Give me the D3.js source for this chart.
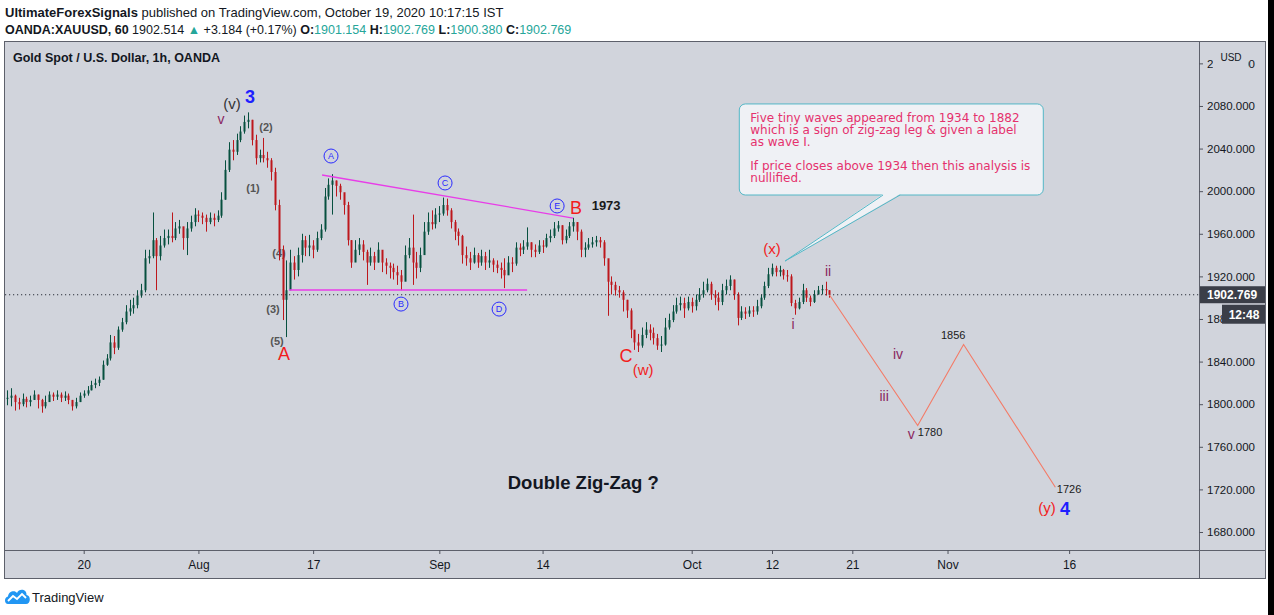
<!DOCTYPE html>
<html><head><meta charset="utf-8">
<script src="https://cdn.jsdelivr.net/npm/d3@7"></script>
<style>
body{margin:0;background:#fff;}
svg{display:block;font-family:"Liberation Sans",Arial,sans-serif;}
</style>
</head><body><svg id="c" width="1274" height="615"></svg>
<script>
// ---------- DATA ----------
// 8-hour candles, indexed in trading days (0 = Jul 20, 2020); open = previous close
const startDay = -20/3;
const stepDay = 1/3;
const firstOpen = 1806;
const closes = [1806,1808,1802,1800,1805,1802,1804,1809,1804,1798,1802,1809,1807,1809,1806,1808,1804,1798,1802,1808,
1810,1813,1818,1820,1823,1837,1843,1858,1853,1870,1877,1887,1890,1893,1902,1907,1937,1939,1954,1939,
1949,1956,1958,1956,1965,1967,1956,1965,1971,1978,1977,1975,1971,1975,1973,1977,1992,2020,2039,2037,
2048,2056,2065,2067,2048,2031,2034,2031,2029,2018,1987,1945,1898,1907,1933,1926,1940,1954,1947,1949,
1945,1956,1964,1995,2006,2010,2005,1999,1987,1954,1933,1945,1950,1943,1933,1939,1933,1945,1933,1930,
1928,1924,1921,1915,1940,1947,1933,1928,1940,1962,1971,1969,1978,1979,1987,1982,1971,1962,1958,1940,
1937,1933,1940,1933,1939,1933,1935,1931,1928,1926,1921,1933,1932,1947,1945,1948,1952,1945,1943,1949,
1948,1956,1958,1965,1968,1954,1958,1967,1971,1962,1945,1947,1950,1952,1954,1952,1937,1915,1912,1907,
1905,1898,1888,1870,1858,1855,1865,1870,1867,1862,1855,1856,1872,1879,1887,1893,1895,1890,1896,1892,
1898,1903,1907,1913,1903,1900,1896,1907,1911,1917,1903,1881,1887,1885,1888,1887,1892,1900,1911,1922,
1928,1924,1926,1921,1920,1895,1890,1896,1907,1900,1896,1903,1907,1908,1907,1902.77];
const highs = [1813,1815,1809,1806,1810,1807,1808,1813,1809,1805,1808,1812,1811,1813,1811,1812,1810,1804,1806,1811,
1813,1817,1822,1824,1826,1841,1847,1865,1864,1873,1881,1893,1898,1900,1907,1913,1945,1945,1980,1956,
1958,1964,1964,1980,1971,1973,1965,1971,1977,1984,1982,1980,1978,1980,1979,1982,1999,2029,2046,2048,
2054,2061,2071,2074,2067,2053,2039,2050,2037,2031,2022,1992,1949,1935,1945,1939,1947,1960,1958,1959,
1954,1962,1969,2003,2012,2016,2010,2007,1996,1990,1954,1954,1956,1954,1945,1947,1943,1952,1940,1937,
1933,1932,1930,1926,1949,1956,1978,1943,1947,1971,1980,1982,1984,1986,1994,1993,1984,1973,1965,1959,
1948,1943,1947,1942,1945,1943,1945,1937,1935,1933,1937,1939,1938,1952,1951,1954,1966,1952,1950,1954,
1954,1960,1964,1971,1972,1968,1964,1971,1975,1971,1964,1952,1956,1957,1958,1957,1954,1935,1920,1915,
1911,1907,1898,1890,1868,1866,1872,1877,1875,1872,1866,1864,1881,1885,1893,1900,1901,1900,1901,1900,
1903,1909,1915,1918,1915,1907,1905,1913,1917,1921,1917,1905,1892,1891,1892,1892,1898,1903,1915,1928,
1932,1930,1930,1927,1926,1922,1898,1900,1913,1909,1902,1907,1911,1912,1915,1907];
const lows = [1799,1798,1794,1795,1798,1797,1798,1804,1796,1792,1796,1804,1803,1804,1802,1803,1800,1794,1796,1802,
1806,1808,1813,1815,1817,1823,1836,1841,1847,1851,1868,1875,1883,1885,1890,1900,1905,1932,1937,1907,
1935,1947,1950,1952,1954,1960,1945,1940,1962,1967,1971,1969,1962,1969,1967,1971,1975,1992,2018,2029,
2034,2046,2054,2059,2043,2025,2027,2027,2022,2010,1982,1935,1879,1863,1907,1917,1920,1933,1939,1939,
1937,1943,1954,1962,1992,1978,1995,1992,1978,1949,1928,1935,1940,1935,1912,1930,1926,1933,1924,1922,
1918,1917,1912,1907,1924,1937,1912,1918,1924,1945,1959,1964,1965,1971,1977,1977,1965,1954,1949,1932,
1930,1926,1932,1928,1930,1926,1928,1924,1923,1918,1909,1924,1924,1930,1939,1941,1945,1938,1938,1941,
1942,1947,1952,1956,1962,1950,1951,1956,1962,1954,1938,1938,1945,1947,1948,1947,1930,1883,1903,1902,
1900,1887,1881,1862,1851,1849,1853,1862,1860,1856,1851,1849,1855,1870,1877,1885,1888,1881,1888,1886,
1888,1896,1900,1905,1898,1893,1888,1893,1903,1907,1898,1874,1879,1880,1882,1882,1884,1890,1898,1909,
1920,1920,1920,1917,1915,1892,1884,1889,1894,1896,1892,1895,1903,1903,1902,1900];

// projected path (trading-day index, price)
const projDays = [65, 72.7, 76.7, 84.7];
const projPrices = [1902.77, 1780, 1856, 1722];

// triangle boundaries
const upperLineDays = [20.78, 42.66];
const upperLinePrices = [2015.2, 1974.8];
const lowerLineDays = [17.9, 38.65];
const lowerLinePrices = [1907.2, 1907.2];

const xTickDays = [0, 10, 20, 31, 40, 53, 60, 67, 75.3, 85.9];
const xTickLabels = ["20", "Aug", "17", "Sep", "14", "Oct", "12", "21", "Nov", "16"];
const yTicks = [1680, 1720, 1760, 1800, 1840, 1880, 1920, 1960, 2000, 2040, 2080, 2120];
const lastPrice = 1902.769;
const countdown = "12:48";

const calloutLines = [
  "Five tiny waves appeared from 1934 to 1882",
  "which is a sign of zig-zag leg & given a label",
  "as wave I.",
  "",
  "If price closes above 1934 then this analysis is",
  "nullified."
];

// ---------- LAYOUT ----------
const svg = d3.select("#c");
const L = 5, R = 1199, T = 41, B = 550;
const x = d3.scaleLinear().domain([0, 60]).range([83.7, 772]);
const y = d3.scaleLinear().domain([1663.1, 2141]).range([B, T]);

const BG = "#d1d4dc", FRAME = "#5d606b";
const UP = "#07503f", DN = "#bd171c";
const RED = "#f21d1d", PURPLE = "#8a2660", GREY = "#555", BLUE = "#1f1fff", TEAL = "#26a69a";

// header
const h1 = svg.append("text").attr("x", 5).attr("y", 17).attr("font-size", 13).attr("fill", "#131722");
h1.append("tspan").attr("font-weight", "bold").text("UltimateForexSignals");
h1.append("tspan").text(" published on TradingView.com, October 19, 2020 10:17:15 IST");
const h2 = svg.append("text").attr("x", 5).attr("y", 34).attr("font-size", 12.5).attr("fill", "#131722");
h2.append("tspan").attr("font-weight", "bold").text("OANDA:XAUUSD, 60");
h2.append("tspan").text(" 1902.514 ");
h2.append("tspan").attr("fill", TEAL).text("▲");
h2.append("tspan").text(" +3.184 (+0.17%) ");
[["O:", "1901.154"], ["H:", "1902.769"], ["L:", "1900.380"], ["C:", "1902.769"]].forEach((p, i) => {
  h2.append("tspan").attr("font-weight", "bold").text((i ? " " : "") + p[0]);
  h2.append("tspan").attr("fill", TEAL).text(p[1]);
});

// panel backgrounds
svg.append("rect").attr("x", 4.5).attr("y", 41.5).attr("width", 1261).attr("height", 537)
  .attr("fill", BG).attr("stroke", FRAME);
svg.append("line").attr("x1", R + 0.5).attr("x2", R + 0.5).attr("y1", 41).attr("y2", 579).attr("stroke", FRAME);
svg.append("line").attr("x1", 4).attr("x2", 1266).attr("y1", B + 0.5).attr("y2", B + 0.5).attr("stroke", FRAME);
svg.append("rect").attr("x", 1268).attr("y", 0).attr("width", 6).attr("height", 615).attr("fill", "#000");

svg.append("text").attr("x", 13).attr("y", 62).attr("font-size", 12.5).attr("font-weight", "bold")
  .attr("fill", "#131722").text("Gold Spot / U.S. Dollar, 1h, OANDA");

svg.append("defs").append("clipPath").attr("id", "plot").append("rect")
  .attr("x", L).attr("y", T + 1).attr("width", R - L).attr("height", B - T - 1);
const plot = svg.append("g").attr("clip-path", "url(#plot)");

// partly hidden wave label drawn under candles
plot.append("text").attr("x", x(17.03)).attr("y", y(1941.9)).attr("dy", "0.35em")
  .attr("text-anchor", "middle").attr("font-size", 11).attr("font-weight", "bold").attr("fill", GREY).text("(4)");

// candles
const candles = closes.map((c, i) => ({
  d: startDay + i * stepDay, o: i ? closes[i - 1] : firstOpen, c, h: highs[i], l: lows[i]
}));
const cg = plot.append("g");
cg.selectAll("line").data(candles).join("line")
  .attr("x1", d => Math.round(x(d.d)) + 0.5).attr("x2", d => Math.round(x(d.d)) + 0.5)
  .attr("y1", d => y(d.h)).attr("y2", d => y(d.l))
  .attr("stroke", d => d.c >= d.o ? UP : DN).attr("stroke-width", 1);
cg.selectAll("rect").data(candles).join("rect")
  .attr("x", d => Math.round(x(d.d)) - 0.5).attr("width", 2)
  .attr("y", d => y(Math.max(d.o, d.c)))
  .attr("height", d => Math.max(1, Math.abs(y(d.o) - y(d.c))))
  .attr("fill", d => d.c >= d.o ? UP : DN);

// last price dotted line
plot.append("line").attr("x1", L).attr("x2", R).attr("y1", y(lastPrice)).attr("y2", y(lastPrice))
  .attr("stroke", "#2a2e39").attr("stroke-dasharray", "1.2,2.8").attr("stroke-width", 1.2);

// triangle lines
const ln = d3.line().x(d => x(d[0])).y(d => y(d[1]));
plot.append("path").attr("d", ln(upperLineDays.map((d, i) => [d, upperLinePrices[i]])))
  .attr("stroke", "#e83de8").attr("stroke-width", 1.3).attr("fill", "none");
plot.append("path").attr("d", ln(lowerLineDays.map((d, i) => [d, lowerLinePrices[i]])))
  .attr("stroke", "#e83de8").attr("stroke-width", 1.3).attr("fill", "none");

// projection
plot.append("path").attr("d", ln(projDays.map((d, i) => [d, projPrices[i]])))
  .attr("stroke", "#f47a66").attr("stroke-width", 1.1).attr("fill", "none");

// wave labels: [text, day, price, colour, size, weight]
const labels = [
  ["(v)", 12.93, 2081.8, "#333", 15, "normal"],
  ["3", 14.5, 2088.4, BLUE, 18, "bold"],
  ["v", 11.97, 2067.8, PURPLE, 14, "normal"],
  ["(2)", 15.89, 2060.3, GREY, 11, "bold"],
  ["(1)", 14.76, 2003.0, GREY, 11, "bold"],
  ["(3)", 16.5, 1889.3, GREY, 11, "bold"],
  ["(5)", 16.85, 1859.5, GREY, 11, "bold"],
  ["A", 17.47, 1847.0, RED, 18, "normal"],
  ["B", 42.92, 1984.2, RED, 18, "normal"],
  ["1973", 45.54, 1987.0, "#1a1a1a", 13, "bold"],
  ["C", 47.28, 1845.2, RED, 18, "normal"],
  ["(w)", 48.76, 1832.1, RED, 15, "normal"],
  ["(x)", 60.01, 1945.7, RED, 15, "normal"],
  ["i", 61.84, 1875.3, PURPLE, 14, "normal"],
  ["ii", 64.89, 1925.0, PURPLE, 14, "normal"],
  ["iv", 70.99, 1847.1, PURPLE, 14, "normal"],
  ["iii", 69.77, 1807.7, PURPLE, 14, "normal"],
  ["v", 72.13, 1772.0, PURPLE, 14, "normal"],
  ["1780", 73.78, 1773.9, "#1a1a1a", 11, "normal"],
  ["1856", 75.79, 1864.9, "#1a1a1a", 11, "normal"],
  ["1726", 85.9, 1720.3, "#1a1a1a", 11, "normal"],
  ["(y)", 83.98, 1702.5, RED, 15, "normal"],
  ["4", 85.55, 1701.5, BLUE, 18, "bold"],
  ["Double Zig-Zag ?", 43.55, 1726.0, "#131722", 18.5, "bold"]
];
plot.selectAll("text.wl").data(labels).join("text").attr("class", "wl")
  .attr("x", d => x(d[1])).attr("y", d => y(d[2])).attr("dy", "0.35em")
  .attr("text-anchor", "middle").attr("font-size", d => d[4]).attr("font-weight", d => d[5])
  .attr("fill", d => d[3]).text(d => d[0]);

// circled sub-wave letters
const circled = [["A", 21.56, 2033.0], ["B", 27.66, 1894.0], ["C", 31.5, 2007.7], ["D", 36.21, 1889.3], ["E", 41.27, 1986.1]];
const cgp = plot.selectAll("g.circ").data(circled).join("g").attr("class", "circ")
  .attr("transform", d => `translate(${x(d[1])},${y(d[2])})`);
cgp.append("circle").attr("r", 7).attr("fill", "none").attr("stroke", "#2b2bff").attr("stroke-width", 1);
cgp.append("text").attr("text-anchor", "middle").attr("dy", "0.36em").attr("font-size", 9)
  .attr("fill", "#2b2bff").text(d => d[0]);

// callout
const boxL = x(57.15), boxR = x(83.65), boxT = y(2081.9), boxB = y(1996.4);
const tipX = x(61.14), tipY = y(1934.4), b1 = x(69.68), b2 = x(71.17);
const cgb = svg.append("g");
cgb.append("rect").attr("x", boxL).attr("y", boxT).attr("width", boxR - boxL).attr("height", boxB - boxT)
  .attr("rx", 6).attr("fill", "#eff1f5").attr("stroke", "#53b7c6").attr("stroke-width", 1);
cgb.append("path").attr("d", `M${b1},${boxB - 1}L${tipX},${tipY}L${b2},${boxB - 1}Z`).attr("fill", "#eff1f5");
cgb.append("path").attr("d", `M${b1},${boxB}L${tipX},${tipY}L${b2},${boxB}`)
  .attr("fill", "none").attr("stroke", "#53b7c6").attr("stroke-width", 1);
cgb.selectAll("text").data(calloutLines).join("text")
  .attr("x", boxL + 11).attr("y", (d, i) => boxT + 18 + i * 12)
  .attr("font-family", "DejaVu Sans, Verdana, sans-serif").attr("font-size", 12)
  .attr("fill", "#e5316d").text(d => d);

// price axis
const ya = svg.append("g").attr("transform", `translate(${R},0)`)
  .call(d3.axisRight(y).tickValues(yTicks).tickFormat(d3.format(".3f")).tickSize(4).tickPadding(4));
ya.select(".domain").remove();
ya.selectAll("line").attr("stroke", "#50535e");
ya.selectAll("text").attr("font-size", 11.5).attr("fill", "#131722").attr("font-family", "Liberation Sans, Arial, sans-serif");

// USD label (covers the top tick label as in the original)
svg.append("rect").attr("x", 1213).attr("y", 46).attr("width", 35).attr("height", 24).attr("fill", BG);
svg.append("text").attr("x", 1231).attr("y", 61).attr("text-anchor", "middle").attr("font-size", 10)
  .attr("fill", "#131722").text("USD");

// last price & countdown tags
const ly = y(lastPrice);
svg.append("rect").attr("x", R + 1).attr("y", ly - 8.5).attr("width", 1265 - R - 1).attr("height", 17).attr("fill", "#3b3e48");
svg.append("text").attr("x", R + 8).attr("y", ly + 4.5).attr("font-size", 12).attr("font-weight", "bold")
  .attr("fill", "#fff").text(lastPrice.toFixed(3));
svg.append("rect").attr("x", 1222).attr("y", ly + 10).attr("width", 43).attr("height", 19).attr("fill", "#3b3e48");
svg.append("text").attr("x", 1244).attr("y", ly + 24).attr("text-anchor", "middle").attr("font-size", 12)
  .attr("font-weight", "bold").attr("fill", "#fff").text(countdown);

// time axis
const xa = svg.append("g").attr("transform", `translate(0,${B})`)
  .call(d3.axisBottom(x).tickValues(xTickDays).tickFormat((d, i) => xTickLabels[i]).tickSize(4).tickPadding(6));
xa.select(".domain").remove();
xa.selectAll("line").attr("stroke", "#50535e");
xa.selectAll("text").attr("font-size", 12).attr("fill", "#131722").attr("font-family", "Liberation Sans, Arial, sans-serif");

// TradingView footer
const logo = svg.append("g").attr("transform", "translate(5,588)");
logo.append("path").attr("d", "M3,16 C-1,16 -1,9 3,8.5 C3.5,3 10,2 12,5 C14,0 22,1 21.5,7 C26,7.5 26,16 21,16 Z").attr("fill", "#2196f3");
logo.append("path").attr("d", "M3,13 L8,8 L12,11 L17,6 L21,10").attr("fill", "none").attr("stroke", "#fff").attr("stroke-width", 1.8);
svg.append("text").attr("x", 32).attr("y", 602).attr("font-size", 13).attr("fill", "#131722").text("TradingView");
</script>
</body></html>
